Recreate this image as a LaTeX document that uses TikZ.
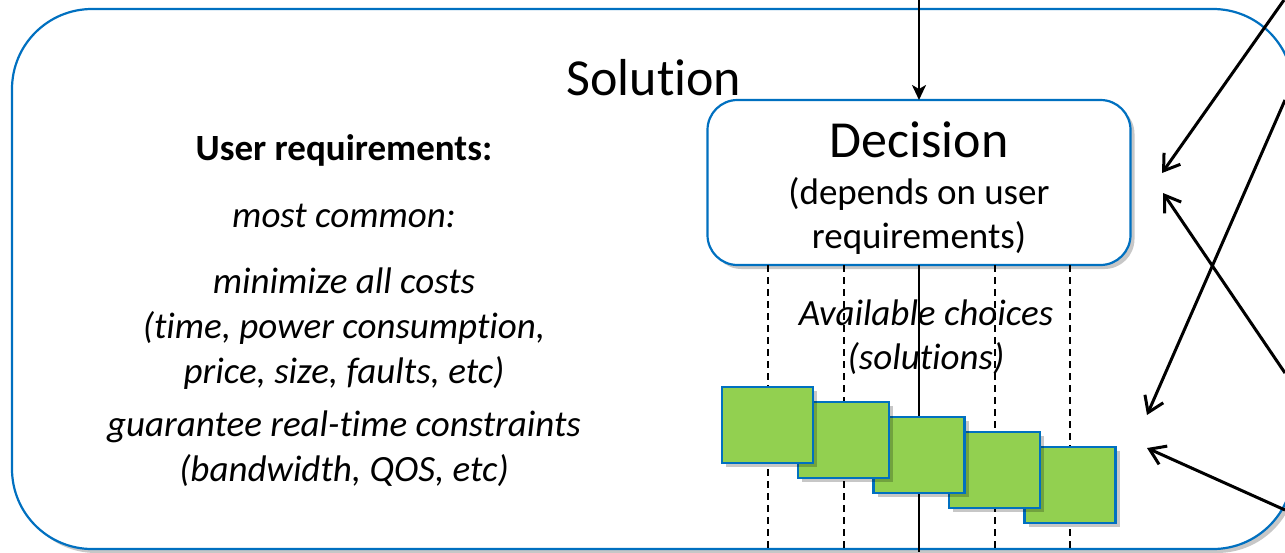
\documentclass[tikz,border=0pt]{standalone}
\usepackage{fontspec}
\setmainfont{Carlito}[Ligatures={NoCommon,NoContextual}]
\usetikzlibrary{arrows.meta,shadows}
\definecolor{bblue}{HTML}{0070C0}
\definecolor{sgreen}{HTML}{92D050}
\begin{document}
\begin{tikzpicture}[x=1pt,y=-1pt,
  every node/.style={inner sep=0pt,outer sep=0pt},
  shad/.style={drop shadow={shadow xshift=4pt,shadow yshift=-4pt,opacity=0.22,fill=black}},
  frame/.style={draw=bblue,line width=2.2pt,fill=white,rounded corners=80pt,shad},
  decbox/.style={draw=bblue,line width=2.2pt,fill=white,rounded corners=30pt,shad},
  sq/.style={draw=bblue,fill=sgreen,line width=2.2pt,minimum width=91pt,minimum height=76pt,shad},
  big/.style={font=\fontsize{52}{62}\selectfont,anchor=base},
  txt/.style={font=\fontsize{37}{45}\selectfont,anchor=base},
  itx/.style={font=\fontsize{37}{45}\selectfont\itshape,anchor=base},
  btx/.style={font=\fontsize{37}{45}\selectfont\bfseries,anchor=base},
  conn/.style={line width=2.4pt},
  dconn/.style={line width=2pt,dash pattern=on 7pt off 5pt},
  barb/.style={line width=3pt,-{Straight Barb[length=15pt,width=20pt]}}
]
\clip (0,0) rectangle (1285,552);
\fill[white] (0,0) rectangle (1285,552);
% outer frame
\node[frame,minimum width=1281pt,minimum height=540pt] (outer) at (652.5,279) {};
\node[big] (soltitle) at (654,95) {Solution};
% left texts
\node[btx] (ur) at (344,160) {User requirements:};
\node[itx] (mc) at (344,227) {most common:};
\node[itx] (l1) at (344,293) {minimize all costs};
\node[itx] (l2) at (344,338) {(time, power consumption,};
\node[itx] (l3) at (344,383) {price, size, faults, etc)};
\node[itx] (l4) at (344,436) {guarantee real-time constraints};
\node[itx] (l5) at (344,481) {(bandwidth, QOS, etc)};
% decision box
\node[decbox,minimum width=423pt,minimum height=165pt] (dec) at (919,182.5) {};
\node[big] (dect) at (919,157) {Decision};
\node[txt] (dec1) at (919,204) {(depends on user};
\node[txt] (dec2) at (919,248) {requirements)};
% vertical lines
\coordinate (b1) at (767.5,552);
\coordinate (b2) at (843.5,552);
\coordinate (b3) at (919,552);
\coordinate (b4) at (994.5,552);
\coordinate (b5) at (1070,552);
\draw[dconn] (dec.south -| b1) -- (b1);
\draw[dconn] (dec.south -| b2) -- (b2);
\draw[conn] (dec.south) -- (b3);
\draw[dconn] (dec.south -| b4) -- (b4);
\draw[dconn] (dec.south -| b5) -- (b5);
\node[itx] (av1) at (926,325) {Available choices};
\node[itx] (av2) at (926,369) {(solutions)};
% squares (last drawn on top)
\node[sq] (s5) at (1070,485) {};
\node[sq] (s4) at (994.5,470) {};
\node[sq] (s3) at (919,455) {};
\node[sq] (s2) at (843.5,440) {};
\node[sq] (s1) at (767.5,425) {};
% top arrow
\coordinate (topin) at (919,0);
\draw[conn,-{Stealth[length=15pt,width=14pt,inset=4pt]}] (topin) -- (dec.north);
% right arrows
\coordinate (a1s) at (1284,0);
\coordinate (a1e) at (1162,173);
\coordinate (a2s) at (1285,100);
\coordinate (a2e) at (1147,415);
\coordinate (a3s) at (1285,373);
\coordinate (a3e) at (1163,193);
\coordinate (a4s) at (1285,510);
\coordinate (a4e) at (1147,448);
\draw[barb] (a1s) -- (a1e);
\draw[barb] (a2s) -- (a2e);
\draw[barb] (a3s) -- (a3e);
\draw[barb] (a4s) -- (a4e);
\end{tikzpicture}
\end{document}
